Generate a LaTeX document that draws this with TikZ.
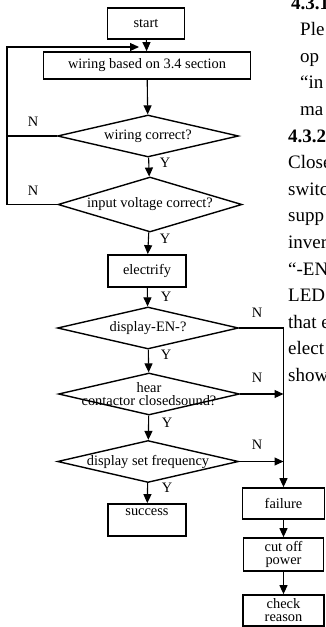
\documentclass[tikz,border=0pt]{standalone}
\usepackage{fontspec}
\setmainfont{Liberation Serif}
\usetikzlibrary{shapes.geometric,arrows.meta}

\tikzset{
  proc/.style={draw, line width=1.7pt, inner sep=0pt, font=\fontsize{14.4}{13}\selectfont, align=center},
  dec/.style={diamond, draw, line width=1.4pt, inner sep=0pt, minimum width=181pt, minimum height=42pt},
  dectext/.style={font=\fontsize{14.4}{13}\selectfont, align=center},
  flow/.style={line width=1.1pt, -{Triangle[length=9pt,width=8pt]}},
  yn/.style={font=\fontsize{14.4}{14}\selectfont, inner sep=0pt},
  body/.style={anchor=base west, inner sep=0pt, font=\fontsize{19}{22}\selectfont}
}

\begin{document}
\begin{tikzpicture}[x=1pt,y=-1pt]
    \useasboundingbox (0,0) rectangle (325,627);
    % glowna kolumna
    \node[proc, minimum width=77pt, minimum height=31pt] (start) at (146,23.5) {start};
    \node[proc, minimum width=207pt, minimum height=27pt] (wiring) at (147,65.5) {wiring based on 3.4 section};
    \node[dec, label={[dectext]center:wiring correct?}] (chkwire) at (148,136) {};
    \node[dec, minimum width=184pt, minimum height=55pt, label={[dectext]center:input voltage correct?}] (chkvolt) at (150,204.5) {};
    \node[proc, minimum width=78pt, minimum height=32pt] (power) at (147,271) {electrify};
    \node[dec, label={[dectext]center:display-EN-?}] (chken) at (148,328) {};
    \node[dec, label={[dectext]center:hear\\contactor closedsound?}] (chksound) at (149,394) {};
    \node[dec, label={[dectext]center:display set frequency}] (chkfreq) at (148,461.5) {};
    \node[proc, minimum width=78pt, minimum height=32pt] (success) at (147,520) {success\\[3pt]};
    % prawa kolumna
    \node[proc, minimum width=82pt, minimum height=31pt] (failure) at (283.5,503.5) {failure};
    \node[proc, minimum width=80pt, minimum height=33pt] (cutoff) at (283.5,554.5) {cut off\\power};
    \node[proc, minimum width=81pt, minimum height=31pt] (reason) at (283.5,610.5) {check\\reason};
    % polaczenia w dol
    \draw[flow] (start) -- (wiring);
    \draw[flow] (wiring) -- (chkwire);
    \draw[flow] (chkwire) -- (chkvolt);
    \draw[flow] (chkvolt) -- (power);
    \draw[flow] (power) -- (chken);
    \draw[flow] (chken) -- (chksound);
    \draw[flow] (chksound) -- (chkfreq);
    \draw[flow] (chkfreq) -- (success);
    \draw[flow] (failure) -- (cutoff);
    \draw[flow] (cutoff) -- (reason);
    % petla N po lewej
    \coordinate (loop) at (7,47);
    \coordinate (entry) at (147,47);
    \draw[line width=1.1pt] (chkwire.west) -- (chkwire.west -| loop);
    \draw[flow, shorten >=8pt] (chkvolt.west) -| (loop) -- (entry);
    % galezie N po prawej
    \draw[flow] (chken.east) -| (failure);
    \draw[flow] (chksound.east) -- (chksound.east -| failure);
    \draw[flow] (chkfreq.east) -- (chkfreq.east -| failure);
    % etykiety Y / N
    \node[yn] (n1) at (33,122) {N};
    \node[yn] (n2) at (33,191) {N};
    \node[yn] (n3) at (257,313) {N};
    \node[yn] (n4) at (257,378) {N};
    \node[yn] (n5) at (257,445) {N};
    \node[yn] (y1) at (165,163) {Y};
    \node[yn] (y2) at (165,239) {Y};
    \node[yn] (y3) at (166,297) {Y};
    \node[yn] (y4) at (166,355) {Y};
    \node[yn] (y5) at (167,423) {Y};
    \node[yn] (y6) at (167,488) {Y};
    % tekst strony (uciety)
    \begin{scope}
        \clip (0,0) rectangle (325,627);
        \foreach \x/\txt [count=\k] in {291/{\bfseries 4.3.1}, 300/Ple, 300/op, 300/“in, 300/ma,
            288/{\bfseries 4.3.2}, 288/Close, 288/switc, 288/supp, 288/inver,
            288/“-EN, 288/LED, 288/that e, 288/elect, 288/show} {
            \node[body] (line\k) at (\x,{142+(\k-6)*26.6}) {\txt};
        }
    \end{scope}
\end{tikzpicture}
\end{document}
